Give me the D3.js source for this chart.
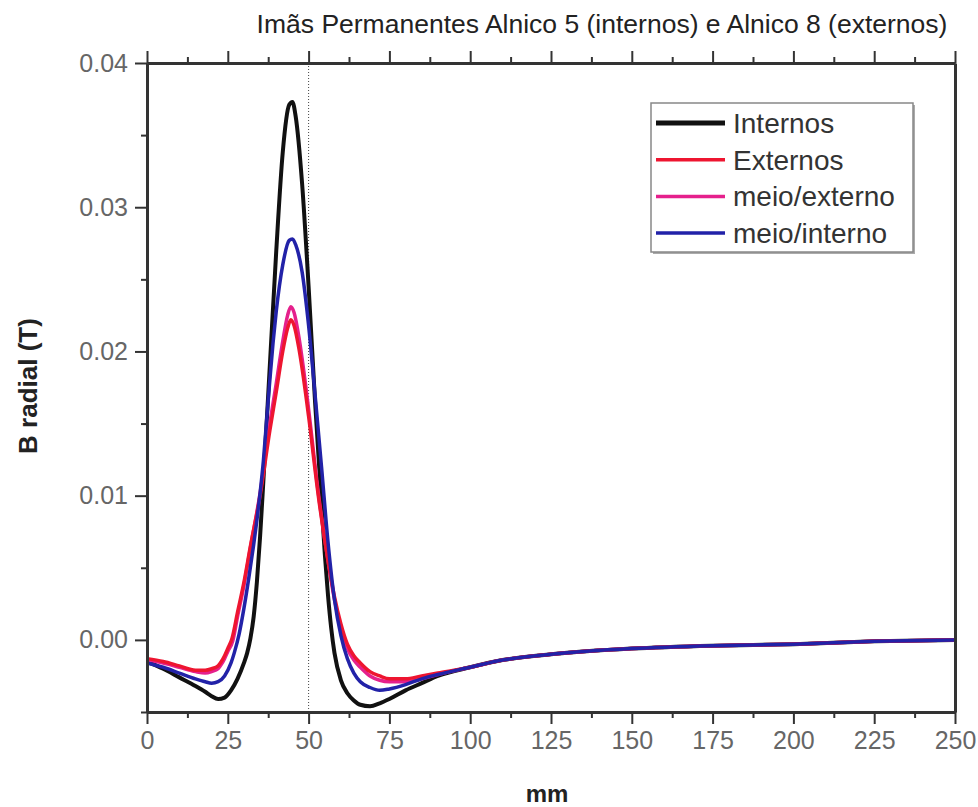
<!DOCTYPE html>
<html>
<head>
<meta charset="utf-8">
<script src="https://cdn.jsdelivr.net/npm/d3@7"></script>
<style>
  body { margin: 0; background: #fff; }
  svg { display: block; font-family: 'Liberation Sans', Arial, sans-serif; }
</style>
</head>
<body>
<div id="chart"></div>
<script>
// [mm, B radial (T)]
const tail = [[100, -0.0019], [110, -0.0014], [125, -0.0010], [150, -0.0006], [175, -0.0004], [200, -0.0003], [225, -0.0001], [250, 0.0]]

const internos = [
    [0, -0.0015], [5, -0.0020], [10, -0.0026], [15, -0.0032], [18, -0.0036], [20, -0.0039],
    [22, -0.0041], [24, -0.0040], [26, -0.0035], [28, -0.0027], [30, -0.0016], [31, -0.0009],
    [32, 0.0001], [33, 0.0016], [34, 0.0040], [35, 0.0072], [36, 0.0110], [38, 0.0190],
    [40, 0.0270], [42, 0.0338], [44, 0.0371], [45, 0.0373], [46, 0.0363], [48, 0.0316],
    [50, 0.0245], [52, 0.0165], [54, 0.0095], [55, 0.0060], [56, 0.0031], [57, 0.0008],
    [58, -0.0009], [60, -0.0028], [62, -0.0037], [64, -0.0042], [66, -0.0045], [69, -0.0046],
    [72, -0.0044], [75, -0.0041], [80, -0.0035], [85, -0.0030], [90, -0.0025],
    ...tail,
]

const externos = [
    [0, -0.0013], [5, -0.0015], [10, -0.0018], [15, -0.0021], [18, -0.0021], [20, -0.0020],
    [22, -0.0018], [23, -0.0015], [24, -0.0011], [25, -0.0006], [26.3, 0.0001], [28, 0.0019],
    [30, 0.0040], [32, 0.0065], [35, 0.0100], [38, 0.0145], [40, 0.0172], [42, 0.0200],
    [43.5, 0.0216], [44.5, 0.0222], [45.5, 0.0218], [47, 0.0202], [48, 0.0188], [50, 0.0155],
    [53, 0.0100], [56, 0.0055], [58, 0.0030], [60, 0.0011], [62, -0.0003], [64, -0.0011],
    [66, -0.0016], [69, -0.0022], [72, -0.0025], [75, -0.0027], [80, -0.0027], [85, -0.0025],
    [90, -0.0023],
    ...tail,
]

const meioExterno = [
    [0, -0.0014], [5, -0.0016], [10, -0.0019], [15, -0.0022], [18, -0.0023], [20, -0.0022],
    [22, -0.0020], [23, -0.0017], [24, -0.0013], [25, -0.0008], [26.5, -0.0001], [28, 0.0016],
    [30, 0.0038], [32, 0.0064], [35, 0.0102], [38, 0.0150], [40, 0.0178], [42, 0.0207],
    [43.5, 0.0225], [44.5, 0.0231], [45.5, 0.0227], [47, 0.0210], [48, 0.0195], [50, 0.0160],
    [53, 0.0102], [56, 0.0055], [58, 0.0028], [60, 0.0008], [62, -0.0006], [64, -0.0014],
    [66, -0.0019], [69, -0.0025], [72, -0.0028], [75, -0.0029], [80, -0.0029], [85, -0.0027],
    [90, -0.0024],
    ...tail,
]

const meioInterno = [
    [0, -0.0016], [5, -0.0019], [10, -0.0023], [15, -0.0027], [18, -0.0029], [20, -0.0030],
    [22, -0.0029], [24, -0.0025], [26, -0.0016], [27, -0.0009], [28.5, 0.0004], [30, 0.0022],
    [31.5, 0.0043], [33, 0.0066], [34, 0.0083], [35, 0.0102], [36, 0.0124], [37, 0.0152],
    [38, 0.0180], [39, 0.0206], [40, 0.0228], [42, 0.0260], [44, 0.0277], [45, 0.0278],
    [46, 0.0274], [48, 0.0255], [50, 0.0218], [52, 0.0170], [54, 0.0120], [56, 0.0068],
    [58, 0.0028], [60, 0.0003], [62, -0.0013], [64, -0.0023], [66, -0.0029], [69, -0.0033],
    [72, -0.0035], [75, -0.0034], [80, -0.0031], [85, -0.0027], [90, -0.0024],
    ...tail,
]

const seriesNames = ['Internos', 'Externos', 'meio/externo', 'meio/interno']
const xTicks = [0, 25, 50, 75, 100, 125, 150, 175, 200, 225, 250]
const yTicks = [0.0, 0.01, 0.02, 0.03, 0.04]
const markerX = 50

const width = 978
const height = 807
const margin = { top: 63, right: 23, bottom: 95, left: 147 }

const series = [
    { name: seriesNames[0], data: internos, color: '#111111', w: 4 },
    { name: seriesNames[2], data: meioExterno, color: '#e5208c', w: 3.5 },
    { name: seriesNames[1], data: externos, color: '#ee1530', w: 3.5 },
    { name: seriesNames[3], data: meioInterno, color: '#2222a8', w: 3.5 },
]

const x = d3.scaleLinear().domain([0, 250]).range([margin.left, width - margin.right])
const y = d3.scaleLinear().domain([-0.005, 0.04]).range([height - margin.bottom, margin.top])

const svg = d3.select('#chart').append('svg').attr('width', width).attr('height', height)

// title
svg.append('text')
    .attr('x', 602)
    .attr('y', 33)
    .attr('text-anchor', 'middle')
    .style('font-size', '26.5px')
    .style('fill', '#222')
    .text('Imãs Permanentes Alnico 5 (internos) e Alnico 8 (externos)')

// dotted marker
svg.append('line')
    .attr('x1', x(markerX)).attr('x2', x(markerX))
    .attr('y1', y.range()[1]).attr('y2', y.range()[0])
    .attr('stroke', '#444')
    .attr('stroke-width', 1)
    .attr('stroke-dasharray', '1,2')

// curves
const line = d3.line()
    .x((d) => x(d[0]))
    .y((d) => y(d[1]))
    .curve(d3.curveMonotoneX)

const plot = svg.append('g')
plot.selectAll('path')
    .data(series)
    .enter()
    .append('path')
    .attr('d', (d) => line(d.data))
    .attr('fill', 'none')
    .attr('stroke', (d) => d.color)
    .attr('stroke-width', (d) => d.w)
    .attr('stroke-linejoin', 'round')

// axes
const minorX = d3.range(12.5, 250, 25)
const minorY = [-0.005, 0.005, 0.015, 0.025, 0.035]

const styleAxis = (g) => {
    g.select('.domain').attr('stroke', '#333').attr('stroke-width', 3)
    g.selectAll('.tick line').attr('stroke', '#333').attr('stroke-width', 2)
    g.selectAll('.tick text').style('font-size', '25px').style('fill', '#666').style('font-family', "'Liberation Sans', Arial, sans-serif")
}

svg.append('g')
    .attr('transform', `translate(0, ${y.range()[0]})`)
    .call(d3.axisBottom(x).tickValues(minorX).tickSize(6).tickFormat('').tickSizeOuter(0))
    .call(styleAxis)
svg.append('g')
    .attr('transform', `translate(0, ${y.range()[0]})`)
    .call(d3.axisBottom(x).tickValues(xTicks).tickSize(12).tickPadding(7).tickSizeOuter(0))
    .call(styleAxis)

svg.append('g')
    .attr('transform', `translate(0, ${y.range()[1]})`)
    .call(d3.axisTop(x).tickValues(minorX).tickSize(6).tickFormat('').tickSizeOuter(0))
    .call(styleAxis)
svg.append('g')
    .attr('transform', `translate(0, ${y.range()[1]})`)
    .call(d3.axisTop(x).tickValues(xTicks).tickSize(12).tickFormat('').tickSizeOuter(0))
    .call(styleAxis)

svg.append('g')
    .attr('transform', `translate(${x.range()[0]}, 0)`)
    .call(d3.axisLeft(y).tickValues(minorY).tickSize(6).tickFormat('').tickSizeOuter(0))
    .call(styleAxis)
svg.append('g')
    .attr('transform', `translate(${x.range()[0]}, 0)`)
    .call(d3.axisLeft(y).tickValues(yTicks).tickSize(12).tickPadding(7).tickFormat(d3.format('.2f')).tickSizeOuter(0))
    .call(styleAxis)

svg.append('g')
    .attr('transform', `translate(${x.range()[1]}, 0)`)
    .call(d3.axisRight(y).tickValues([]).tickSizeOuter(0))
    .call(styleAxis)

// axis titles
svg.append('text')
    .attr('x', 547)
    .attr('y', 802)
    .attr('text-anchor', 'middle')
    .style('font-size', '24px')
    .style('font-weight', 'bold')
    .style('fill', '#222')
    .text('mm')

svg.append('text')
    .attr('transform', 'translate(37, 386) rotate(-90)')
    .attr('text-anchor', 'middle')
    .style('font-size', '26px')
    .style('font-weight', 'bold')
    .style('fill', '#222')
    .text('B radial (T)')

// legend
const legend = svg.append('g').attr('transform', 'translate(651, 103)')
legend.append('rect')
    .attr('x', 2).attr('y', 2)
    .attr('width', 262).attr('height', 149)
    .attr('fill', '#aaa')
legend.append('rect')
    .attr('width', 262).attr('height', 149)
    .attr('fill', '#fff')
    .attr('stroke', '#888')
    .attr('stroke-width', 1.5)

const legendOrder = [series[0], series[2], series[1], series[3]]
const rows = legend.selectAll('g.row')
    .data(legendOrder)
    .enter()
    .append('g')
    .attr('class', 'row')
    .attr('transform', (d, i) => `translate(0, ${20 + i * 36.7})`)
rows.append('line')
    .attr('x1', 5).attr('x2', 74)
    .attr('stroke', (d) => d.color)
    .attr('stroke-width', (d) => (d.w === 4 ? 5 : 3.5))
rows.append('text')
    .attr('x', 82)
    .attr('y', 10)
    .style('font-size', '28px')
    .style('fill', '#333')
    .text((d) => d.name)
</script>
</body>
</html>
